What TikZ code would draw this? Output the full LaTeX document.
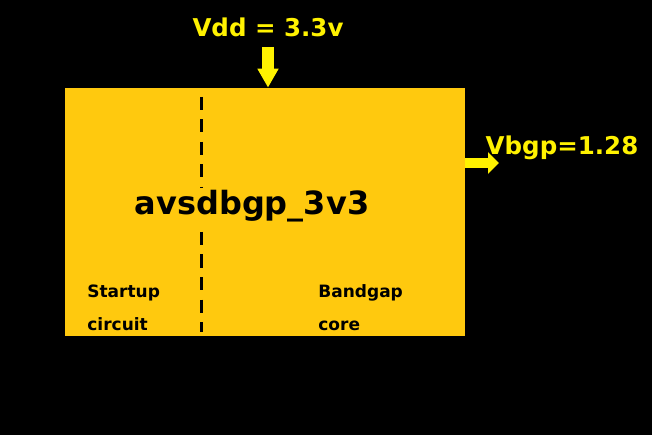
\documentclass[tikz,border=0pt]{standalone}
\usepackage{fontspec}
\setmainfont{DejaVu Sans}
\usetikzlibrary{positioning,arrows.meta}
\definecolor{blockgold}{RGB}{255,201,14}
\definecolor{pinyellow}{RGB}{255,242,0}
\tikzset{every picture/.style={line width=0.75pt}}
\tikzset{
  bgblock/.style ={rectangle, fill=blockgold, draw=none, minimum width=400pt,
                   minimum height=248pt, inner sep=0pt},
  pinlabel/.style={text=pinyellow, font=\fontsize{24.5}{28}\selectfont\bfseries, inner sep=0pt},
  partlabel/.style={text=black, font=\fontsize{17}{20}\selectfont\bfseries, inner sep=0pt, anchor=base west},
  pinarrow/.style={draw=pinyellow},
  divider/.style ={draw=black, line width=3pt, dash pattern=on 13pt off 9.5pt},
}

\begin{document}
\begin{tikzpicture}[x=1pt, y=-1pt]
        \useasboundingbox[fill=black] (0,0) rectangle (652,435);
        % bandgap block
        \node[bgblock] (bg) at (265,212) {};
        \draw[divider] (201,97) -- (201,332);
        \node[fill=blockgold, font=\fontsize{32}{38}\selectfont\bfseries, inner sep=3pt, anchor=base] (name) at (252,215) {avsdbgp\_3v3};
        \node[partlabel] (su1) at (87,297) {Startup};
        \node[partlabel] (su2) at (87,330) {circuit};
        \node[partlabel] (bc1) at (318,297) {Bandgap};
        \node[partlabel] (bc2) at (318,330) {core};
        % supply pin
        \node[pinlabel, anchor=base] (vdd) at (268,37) {Vdd = 3.3v};
        \coordinate (vddtail) at (268,47);
        \draw[pinarrow, line width=12pt, -{Triangle[width=20pt,length=19pt]}] (vddtail) -- (vddtail |- bg.north);
        % output pin
        \node[pinlabel, anchor=base] (vbgp) at (562,155) {Vbgp=1.28};
        \coordinate (vbgptip) at (499,163);
        \draw[pinarrow, line width=10pt, -{Triangle[width=21pt,length=11pt]}] (bg.east |- vbgptip) -- (vbgptip);
\end{tikzpicture}
\end{document}
